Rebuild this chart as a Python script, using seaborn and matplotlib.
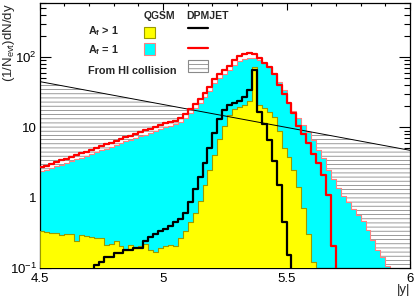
import numpy as np
import pandas as pd
import matplotlib
matplotlib.use('Agg')
import matplotlib.pyplot as plt
import seaborn as sns
from matplotlib.patches import Rectangle
from matplotlib.lines import Line2D
from matplotlib.ticker import FixedLocator, MultipleLocator, LogLocator, NullFormatter

# rapidity binning (0.02 wide bins from 4.5 to 6.0)
edges = np.linspace(4.5, 6.0, 76)
centers = np.round(edges[:-1] + 0.01, 3)
bin_edges = edges.tolist()

# QGSM, A_f = 1 (cyan)
qgsm_a1 = [2.35, 2.48, 2.62, 2.78, 2.93, 3.1, 3.28, 3.48, 3.7, 3.92,
           4.15, 4.4, 4.68, 4.95, 5.25, 5.6, 5.9, 6.3, 6.7, 7.1,
           7.5, 7.9, 8.4, 8.9, 9.5, 10.1, 10.6, 11, 11.9, 13.6,
           15.8, 18.9, 22, 27, 33.5, 43, 50, 57, 65, 78,
           87, 93, 96, 96, 91, 83, 73, 59, 45, 34,
           22, 17, 13.4, 10.7, 8.6, 6.5, 4.8, 3.6, 2.5, 1.85,
           1.35, 1.05, 0.85, 0.68, 0.56, 0.46, 0.34, 0.25, 0.18, 0.14,
           0.105, 0, 0, 0, 0]

# QGSM, A_f > 1 (yellow)
qgsm_af = [0.33, 0.32, 0.31, 0.31, 0.29, 0.3, 0.3, 0.24, 0.29, 0.28,
           0.27, 0.26, 0.26, 0.21, 0.22, 0.24, 0.2, 0.175, 0.21, 0.19,
           0.2, 0.22, 0.18, 0.164, 0.19, 0.2, 0.21, 0.2, 0.26, 0.33,
           0.45, 0.6, 0.9, 1.5, 2.43, 4, 6.8, 10.5, 15, 18,
           19.5, 21, 23.5, 72, 21, 19, 16.5, 14, 9, 5,
           3.8, 2.5, 1.4, 0.7, 0.3, 0.12, 0, 0, 0, 0,
           0, 0, 0, 0, 0, 0, 0, 0, 0, 0,
           0, 0, 0, 0, 0]

# DPMJET, A_f = 1 (red line)
dpmjet_a1 = [2.68, 2.84, 3.0, 3.2, 3.38, 3.58, 3.8, 4.0, 4.25, 4.5,
             4.8, 5.05, 5.4, 5.7, 6.05, 6.4, 6.8, 7.2, 7.6, 8.1,
             8.6, 9.1, 9.6, 10.2, 10.8, 11.5, 12, 12.5, 13.5, 15.5,
             18, 21.5, 25, 31, 38, 49, 57, 65, 74, 90,
             103, 110, 114, 110, 98, 84, 72, 58, 40, 30,
             22, 16, 10.5, 8, 6, 4.2, 3.1, 2.1, 1.1, 0.2,
             0, 0, 0, 0, 0, 0, 0, 0, 0, 0,
             0, 0, 0, 0, 0]

# DPMJET, A_f > 1 (black line)
dpmjet_af = [0, 0, 0, 0, 0, 0, 0, 0, 0, 0,
             0, 0.11, 0.12, 0.14, 0.14, 0.16, 0.16, 0.18, 0.18, 0.19,
             0.19, 0.24, 0.27, 0.3, 0.33, 0.35, 0.39, 0.45, 0.5, 0.6,
             0.85, 1.3, 1.93, 3.1, 5, 8.2, 13, 17.5, 21, 22.5,
             24, 27, 34, 65, 16.5, 11, 6.5, 3.3, 1.5, 0.45,
             0.15, 0, 0, 0, 0, 0, 0, 0, 0, 0,
             0, 0, 0, 0, 0, 0, 0, 0, 0, 0,
             0, 0, 0, 0, 0]

# upper edge of the hatched band "From HI collision"
hi_x = [4.5, 6.0]
hi_top = [45, 4.7]

x_ticks = [4.5, 5.0, 5.5, 6.0]
x_ticklabels = ['4.5', '5', '5.5', '6']
y_ticks = [0.1, 1, 10, 100]
y_ticklabels = ['$10^{-1}$', '1', '10', '$10^{2}$']

df = pd.DataFrame({'y': centers, 'qgsm_a1': qgsm_a1, 'qgsm_af': qgsm_af,
                   'dpmjet_a1': dpmjet_a1, 'dpmjet_af': dpmjet_af})

sns.set_style('ticks')
plt.rcParams['font.family'] = ['Liberation Sans', 'DejaVu Sans']
plt.rcParams['mathtext.fontset'] = 'custom'
plt.rcParams['mathtext.rm'] = 'Liberation Sans'
plt.rcParams['mathtext.it'] = 'Liberation Sans:italic'
plt.rcParams['mathtext.bf'] = 'Liberation Sans:bold'
plt.rcParams['hatch.linewidth'] = 0.6

fig = plt.figure(figsize=(4.15, 2.98), dpi=100)
ax = fig.add_axes([0.0952, 0.1023, 0.8928, 0.8886])
ax.set_yscale('log')

# hatched HI band, under everything
ax.fill_between(hi_x, 1e-3, hi_top, facecolor='white', edgecolor='#8a8a8a',
                hatch='----', linewidth=0, zorder=1)

sns.histplot(data=df, x='y', weights='qgsm_a1', bins=bin_edges, element='step',
             fill=True, color='#00ffff', edgecolor='#ff8080', linewidth=0.8,
             alpha=1, ax=ax, zorder=2)
sns.histplot(data=df, x='y', weights='qgsm_af', bins=bin_edges, element='step',
             fill=True, color='#ffff00', edgecolor='#9a9a00', linewidth=0.8,
             alpha=1, ax=ax, zorder=3)
sns.lineplot(x=hi_x, y=hi_top, color='black', linewidth=0.7, ax=ax, zorder=4)
sns.histplot(data=df, x='y', weights='dpmjet_af', bins=bin_edges, element='step',
             fill=False, color='black', linewidth=1.6, ax=ax, zorder=5)
sns.histplot(data=df, x='y', weights='dpmjet_a1', bins=bin_edges, element='step',
             fill=False, color='#ff0000', linewidth=1.6, ax=ax, zorder=5)

ax.set_xlim(4.5, 6.0)
ax.set_ylim(0.1, 600)
ax.xaxis.set_major_locator(FixedLocator(x_ticks))
ax.set_xticklabels(x_ticklabels)
ax.xaxis.set_minor_locator(MultipleLocator(0.1))
ax.yaxis.set_major_locator(FixedLocator(y_ticks))
ax.set_yticklabels(y_ticklabels)
ax.yaxis.set_minor_locator(LogLocator(base=10, subs=np.arange(2, 10)))
ax.yaxis.set_minor_formatter(NullFormatter())
ax.tick_params(which='both', direction='in', top=True, right=True,
               labelsize=9.5, width=0.8, colors='black')
ax.tick_params(axis='x', which='major', length=5, pad=4)
ax.tick_params(axis='x', which='minor', length=2.5)
ax.tick_params(axis='y', which='major', length=8, pad=2)
ax.tick_params(axis='y', which='minor', length=4)
for s in ax.spines.values():
    s.set_linewidth(0.9)
    s.set_color('black')

ax.set_xlabel('|y|', loc='right', fontsize=9.5, labelpad=-0.5)
ax.set_ylabel(r'(1/N$_{\mathrm{evt}}$)dN/dy', loc='top', fontsize=9.5)
ax.yaxis.set_label_coords(-0.06, 1.0)

# legend, ROOT style
tr = ax.transAxes
ax.text(0.3225, 0.949, 'QGSM', transform=tr, ha='center', va='center',
        fontsize=7.5, fontweight='bold')
ax.text(0.4534, 0.949, 'DPMJET', transform=tr, ha='center', va='center',
        fontsize=7.5, fontweight='bold')
ax.text(0.131, 0.894, r'A$_{\mathbf{f}}$ > 1', transform=tr, ha='left',
        va='center', fontsize=7.8, fontweight='bold')
ax.text(0.131, 0.822, r'A$_{\mathbf{f}}$ = 1', transform=tr, ha='left',
        va='center', fontsize=7.8, fontweight='bold')
ax.text(0.131, 0.742, 'From HI collision', transform=tr, ha='left',
        va='center', fontsize=7.8, fontweight='bold')
ax.add_patch(Rectangle((0.282, 0.867), 0.0297, 0.0417, transform=tr,
                       facecolor='#ffff00', edgecolor='#9a9a00', lw=0.8, zorder=6))
ax.add_patch(Rectangle((0.282, 0.803), 0.0297, 0.045, transform=tr,
                       facecolor='#00ffff', edgecolor='#ff8080', lw=0.8, zorder=6))
ax.add_line(Line2D([0.401, 0.455], [0.905, 0.905], transform=tr,
                   color='black', lw=1.6, zorder=6))
ax.add_line(Line2D([0.401, 0.455], [0.83, 0.83], transform=tr,
                   color='#ff0000', lw=1.6, zorder=6))
ax.add_patch(Rectangle((0.401, 0.739), 0.054, 0.045, transform=tr,
                       facecolor='white', edgecolor='#8a8a8a', hatch='----',
                       lw=0.8, zorder=6))

fig.savefig('out.png', dpi=100)
